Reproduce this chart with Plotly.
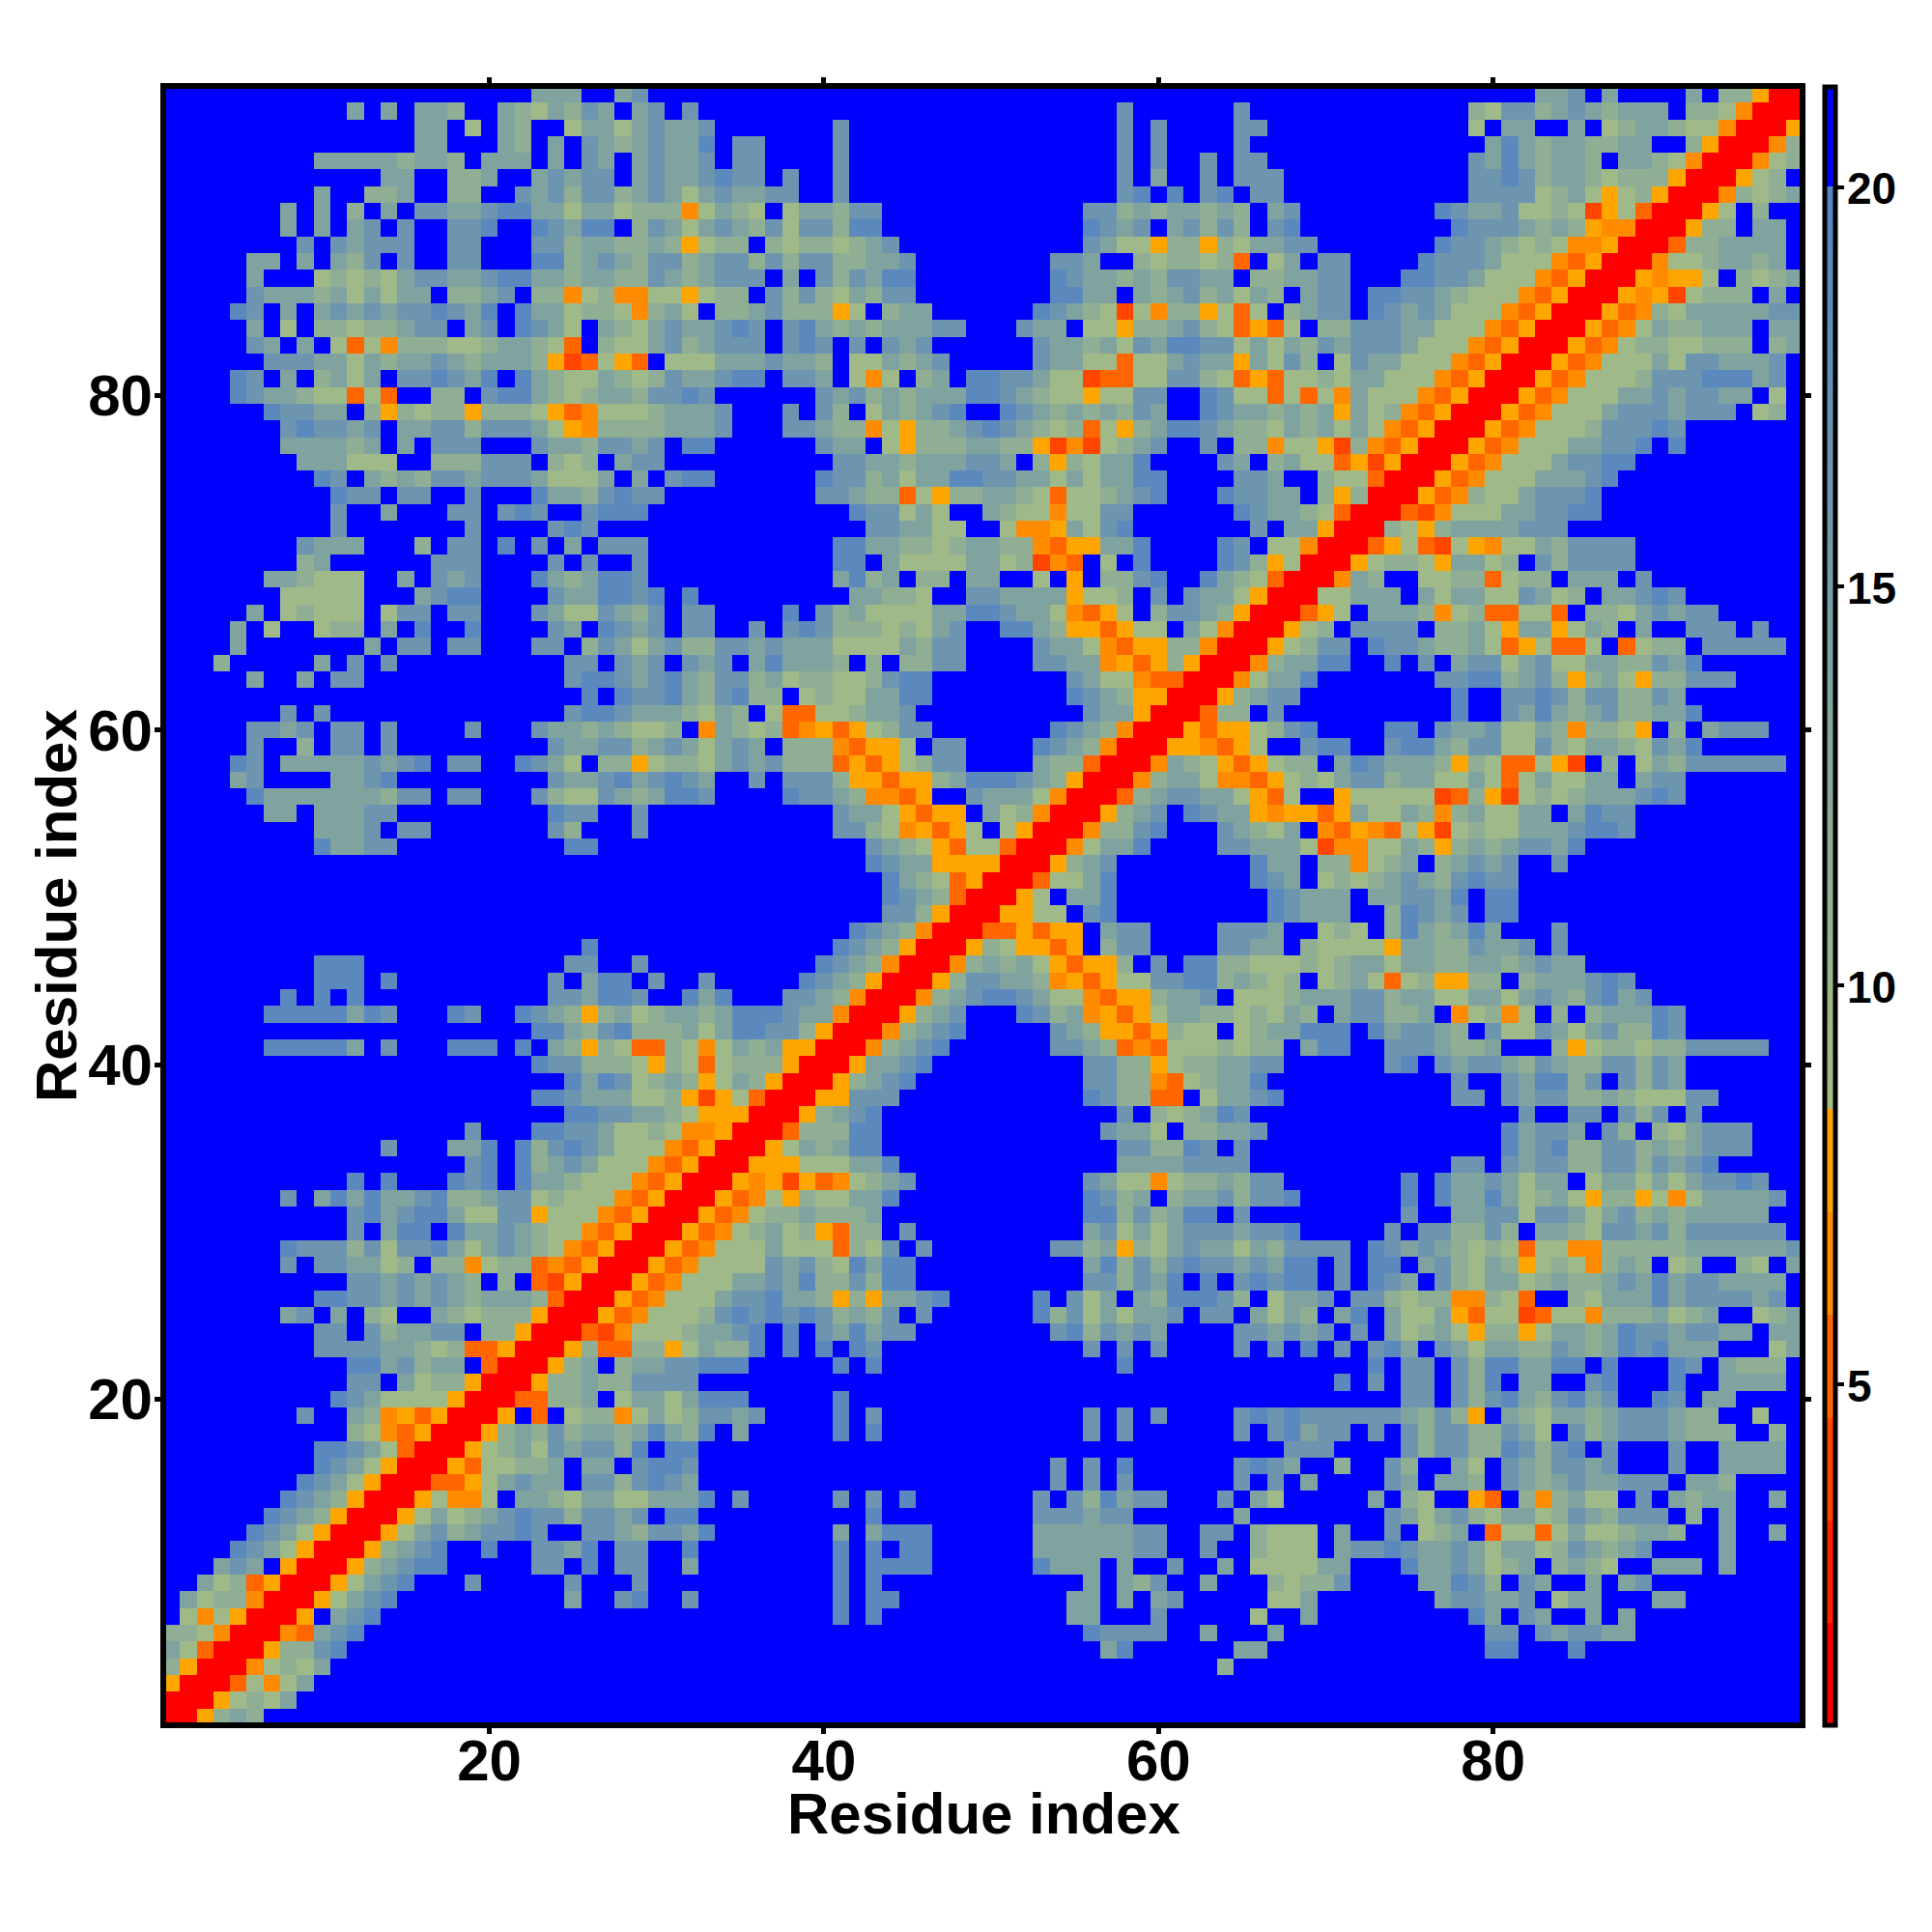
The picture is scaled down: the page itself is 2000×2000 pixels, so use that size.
import plotly.graph_objects as go

RESIDUES = list(range(1, 99))
X_TICKS = [20, 40, 60, 80]
BAR_TICKS = [5, 10, 15, 20]
# distance value represented by each letter
LEVELS = {".": 21.0, "R": 1.4, "r": 2.6, "o": 3.9, "p": 5.2, "q": 6.5, "a": 7.8,
          "g": 9.3, "h": 11.5, "i": 13.8, "j": 16.5, "k": 19.0}
# lower triangle: "column:letters", row 98 first; anything else is blue
ROWS_98_66 = [
"23:iii 28:ij 83:iij 87:i 92:i 94:hhaR",
"12:i 14:i 16:iih 21:ih 23:gihji 29:ij 32:j 58:j 65:j 79:hgjjhijihiii 92:hhgqR",
"16:ii 19:g 21:ih 25:giigij 31:ii 33:j 41:j 58:j 60:j 65:jj 79:g 81:ii 85:i 87:ghiihggqR",
"16:ii 21:ih 24:i 26:jihij 31:ii 33:k 35:jj 41:j 58:j 60:j 65:j 80:ikihiihhii 92:haR",
"10:iiiiih 16:ii 18:h 20:iii 24:i 26:ji 29:ij 31:ii 33:j 35:jj 41:j 58:j 60:j 63:j 65:jj 79:jikihiih 88:iihgqR",
"14:ii 18:hhi 23:ijijj 29:ij 31:ii 33:jkjj 38:j 41:j 58:j 60:i 63:j 65:jjj 79:jjkjhiihghhhaR",
"10:i 13:hhi 18:hh 22:jijhjjhijig 33:ijiijj 41:j 58:jk 61:k 63:jk 66:jj 79:jjjjghigaghaR",
"8:i 10:i 12:h 14:i 16:jjiijkkiigiighhhqgihg 38:g 39:iihjj 56:jjhihiihih 67:ij 77:kjiij 82:gghgoagpR",
"8:i 10:i 12:ij 15:j 18:jjk 23:kji 26:kk 29:hjig 33:ijihjgjjhkk 56:kjij 61:ijhjh 67:jk 78:kjjjihihaqqR",
"9:j 11:jijjj 18:jj 23:jjh 26:iihhihaghh 37:hghhghij 56:jiggahhahgiijj 77:kjjihghgqqaR",
"6:ii 9:i 11:ihj 15:j 18:jj 23:kkhijihjjh 33:ijjhjhjjhhiij 54:jji 59:hghhghp 67:gi 70:jj 76:kjjjigggqpaR",
"6:i 10:ghghgijjiijkk 23:iihiihhjihijjj 38:i 40:jhjikk 54:kjiihihjjii 66:hhiijj 75:kkjjigggqpaR",
"6:jiiihigigii 18:hhij 23:hhqghqqggaghh 37:jhjhgihjj 54:kkii 59:ihijhigih 69:ijj 73:kkjjihgggqpaR",
"5:kj 8:i 10:ijijijjkjik 22:kiighhgqhig 34:hhijhhhag 44:hii 53:kjihgogqhhagpg 68:hijj 73:kjijigggqpaR",
"6:i 8:g 10:hhghhijj 19:ij 22:kjig 27:ihgijiijkj 38:jkihihiiijj 52:jii 56:ggahhijhgpapg 70:hhjjjiigggqpaR",
"6:ji 9:i 11:gpgqhhhgghiihgp 27:hggijhijjj 38:jkj 42:j 44:jij 53:jiihigjikkjjgigihjijjjigggqpaR",
"7:jjjiigihiijihiiihaopgap 31:gggiiijiih 42:ggihij 53:jiiggpggijiiaigjh 71:gjiigggqpaR",
"5:kj 8:i 10:higi 15:jjkjik 22:kihggihghjiijkk 38:jji 42:gqg 46:hi 49:kkjjiggoppggjjhgpapgghgiigggqpaR",
"5:kjiihggpgp 17:hh 20:jkkihghiihjjkj 40:jijhihiiikkjihggaggjj 63:kjggpgpgqigggqpaR",
"7:kjjii 13:hahghhahhhgapqggghiiij 38:j 40:jh 43:gihijk 51:kjihihihji 63:kjiihihiaighqpaR",
"8:jkjjij 15:iijjhjjjigaqhhhhiiij 38:jjihhqgahhijkjihghpgahikkjihhgihigigqpaR",
"8:iiiihi 15:i 17:jjj 23:jiihjjij 32:kk 40:jii 44:gahhhiihhaoqoghij 63:j 65:hhqggaohqpaR",
"9:iiiggg 17:hhhjjj 24:hgh 28:ijj 41:jjiihiiijji 53:hahgiik 64:ji 67:higgpaoaR",
"10:kj 13:ihih 17:jjijjjigggi 29:i 31:jkk 40:kjjhigiikkjjiigigiikk 65:jji 70:hggpR",
"11:kjj 15:jj 19:j 23:kiihjkjj 40:jjihhpgahhiihgpgghijk 64:kjjii 70:hahR",
"11:j 14:i 18:jj 21:jkj 26:jkkk 42:kjjgig 50:ihggqggjj 65:kjiihgpR",
"11:j 19:j 24:jkj 43:jjiigg 51:gqqaigjk 66:j 68:iiaR",
"9:jiii 16:h 18:jj 21:k 23:j 25:i 27:jjj 41:kkiihhghiihhqpaaiik 64:kj 67:ggqR",
"9:hi 17:jjj 24:j 26:j 29:j 41:kk 44:iggggiighoqp 57:g 59:k 64:kjhagR",
"7:iihggg 15:i 17:jij 23:kihikkj 41:ikhi 46:hh 49:ii 53:g 55:a 57:hhjk 63:kihgpR",
"8:ggggg 16:ijkk 24:jiikkjk 32:k 42:iihhg 49:jjiiiiaggh 60:j 62:jiigaR",
"6:i 8:ghggg 14:gjj 18:jj 23:jiggjihj 32:jj 38:k 40:jhiggggiikkjiigqpag 60:hjjihaR",
"5:i 7:g 10:ghh 14:i 16:k 19:k 24:ji 27:kjij 32:jj 36:j 38:jkjhhhghgij 51:kkihaapagg 62:igqR",
]
ROWS_65_33 = [
"5:i 13:i 15:jj 18:jj 23:jj 26:hjigijhhjjijiiiggggihjj 53:jiigqpaahhqR",
"4:h 10:i 12:j 14:j 25:jj 28:jij 32:jij 36:ikiiih 43:h 45:hhjj 53:jjiiqapahaR",
"6:i 9:i 11:jj 25:jkkjijkihjjhighhgghjkk 55:jiggqppR",
"26:k 28:kjjkihjkhh 39:ghggiikk 55:kjihaaR",
"8:j 10:j 25:jkkjiiihgih 37:gppgghiij 56:jiiaR",
"6:jjij 11:jj 14:j 19:j 23:jiihihggh 33:qihghpqapaghjj 54:kjihqR",
"6:j 9:h 11:jj 14:j 24:jiijjhijigiji 38:hhhqpaag 47:jj 53:kjihqR",
"5:kj 8:iiiiiji 15:jk 18:jj 22:kjig 27:hhaghhgijijhhhpapagh 47:jj 53:ihhpR",
"5:ij 11:iijk 24:jiijkijkji 36:j 38:jjjhaapaahikkkjihaR",
"6:kiiiiiiih 15:jj 18:jj 23:jhggjihikkj 38:kjjihqqpa 49:jiiigqR",
"7:ii 10:iiijj 24:kjj 29:j 41:jiigapaa 50:ighqR",
"10:iiij 15:jj 24:jh 29:j 41:jjhgqapag 51:gaR",
"10:kiijj 25:kk 43:jihgapggpR",
"43:kjiiaaaaR",
"44:kihgpaR",
"44:kjihpR",
"44:jjhaR",
"42:kjihqR",
"26:k 41:kjihaR",
"10:kkk 25:jj 29:j 40:kjihqR",
"10:kkk 14:k 24:j 26:ikk 30:j 33:j 39:kjihaR",
"8:k 10:k 12:k 24:jjikkj 32:kik 38:jjihqR",
"7:kkkkkikj 18:kj 22:kjihahighiihikkkjiiqR",
"23:kkihjkhhhigikkjjhaR",
"7:kkkkki 14:j 18:kkk 22:k 24:ihahgpphgqgihiaaR",
"23:kjjhhhgahgpghhhaR",
"25:kikjghihagihaR",
"23:kkjiiigghaoagpR",
"25:kkjjiihgaaaR",
"19:j 23:kkjjigghgqqaR",
"14:j 18:iik 22:khjkjigggqpaR",
"19:jk 22:khijigggqpaR",
"12:k 14:k 18:kjk 22:kiihgggqpaR",
]
ROWS_32_1 = [
"8:j 10:ikikiijkhhijjghgggqpaR",
"12:jkijkkiggjjagggqpaR",
"12:j 14:ikk 18:kiijihggqpaR",
"8:kjjjhjgjjkigijihgqpaR",
"8:j 10:jjiigh 17:hhqghhpqpaR",
"12:jjijijih 21:h 23:poaR",
"10:kkjjijijihiiihpR",
"8:ij 11:i 13:hg 17:ihghhhaR",
"10:jj 13:jhiijj 20:hhaR",
"10:jjjjiihghppaR",
"12:kkijhii 20:pR",
"12:jj 15:ighhaR",
"11:kjiggggaR",
"9:j 12:ihqapaR",
"12:hgqpaR",
"10:kkjigpR",
"10:kjigaR",
"9:kjigaR",
"8:kjihaR",
"7:kjihaR",
"6:kjigaR",
"5:kjigaR",
"4:iji 8:aR",
"3:ighpaR",
"2:ighhqR",
"2:gqgaR",
"1:hhgqR",
"1:igpR",
"1:haR",
"1:aR",
"1:R",
"",
]

n = len(RESIDUES)
Z = [[LEVELS["."] for _ in RESIDUES] for _ in RESIDUES]
for i in range(n):
    Z[i][i] = LEVELS["R"]
for k, text in enumerate(ROWS_98_66 + ROWS_65_33 + ROWS_32_1):
    r = 98 - k
    for token in text.split():
        start, letters = token.split(":")
        for off, ch in enumerate(letters):
            c = int(start) + off
            Z[r - 1][c - 1] = LEVELS[ch]
            Z[c - 1][r - 1] = LEVELS[ch]

ZMIN, ZMAX = 0.73, 21.26
def nrm(v):
    return (v - ZMIN) / (ZMAX - ZMIN)

bands = [(ZMIN, 2.0, "#ff0000"), (2.0, 3.28, "#ff2000"), (3.28, 4.57, "#ff4500"),
         (4.57, 5.86, "#ff6600"), (5.86, 7.15, "#ff8c00"), (7.15, 8.44, "#ffa500")]
scale = []
for lo, hi, col in bands:
    scale += [[nrm(lo), col], [nrm(hi), col]]
scale += [[nrm(8.44), "#a6bd83"], [nrm(20.0), "#5484c2"], [nrm(20.0), "#0000ff"], [1.0, "#0000ff"]]

FONT = "Liberation Sans"
L, R_, T, B = 172, 1863, 92, 1783
BAR_TOP, BAR_BOT = 89.3, 1785.7

fig = go.Figure(go.Heatmap(
    x=RESIDUES, y=RESIDUES, z=Z, zmin=ZMIN, zmax=ZMAX, colorscale=scale, hoverongaps=False,
    colorbar=dict(thickness=11, thicknessmode="pixels", len=(BAR_BOT - BAR_TOP) / (B - T), lenmode="fraction",
                  x=(1889.3 - L) / (R_ - L), xanchor="left", y=0.5, yanchor="middle", xpad=0, ypad=0,
                  outlinewidth=5, outlinecolor="black", borderwidth=0, tickvals=BAR_TICKS, ticktext=["", "", "", ""],
                  ticks="outside", ticklen=7, tickwidth=4, tickcolor="black"),
))
axis = dict(range=[0.68, 98.32], tickvals=X_TICKS, ticks="outside", ticklen=6, tickwidth=5, tickcolor="black",
            showline=True, linecolor="black", linewidth=6, mirror="ticks", showgrid=False, zeroline=False,
            tickfont=dict(family=FONT, size=60, color="black", weight=700))
fig.update_xaxes(**axis, ticklabelstandoff=-24)
fig.update_yaxes(**axis, ticklabelstandoff=-10)
title_font = dict(family=FONT, size=60, color="black", weight=700)
fig.add_annotation(text="Residue index", xref="paper", yref="paper", x=(1018 - L) / (R_ - L),
                   y=(B - 1877) / (B - T), showarrow=False, font=title_font, xanchor="center", yanchor="middle")
fig.add_annotation(text="Residue index", xref="paper", yref="paper", x=(58 - L) / (R_ - L),
                   y=(B - 938) / (B - T), showarrow=False, font=title_font, textangle=-90,
                   xanchor="center", yanchor="middle")
for v in BAR_TICKS:
    y_px = BAR_TOP + (ZMAX - v) * (BAR_BOT - BAR_TOP) / (ZMAX - ZMIN)
    fig.add_annotation(text=str(v), xref="paper", yref="paper", x=(1912 - L) / (R_ - L), y=(B - y_px - 2) / (B - T),
                       showarrow=False, xanchor="left", yanchor="middle", xshift=-2,
                       font=dict(family=FONT, size=46, color="black", weight=700))
fig.update_layout(width=2000, height=2000, autosize=False, paper_bgcolor="white", plot_bgcolor="white",
                  margin=dict(l=L, r=2000 - R_, t=T, b=2000 - B))
fig.write_html("out.html", config={"displayModeBar": False}, post_script="document.body.style.margin='0';")
